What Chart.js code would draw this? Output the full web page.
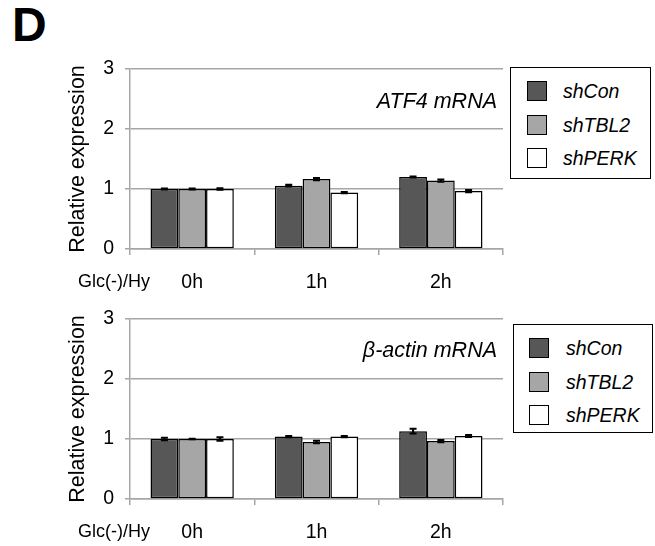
<!DOCTYPE html>
<html>
<head>
<meta charset="utf-8">
<script src="https://cdn.jsdelivr.net/npm/chart.js@4"></script>
<style>
  body { margin: 0; background: #fff; width: 655px; height: 546px; overflow: hidden; position: relative; font-family: "Liberation Sans", Arial, sans-serif; }
  .panel { position: absolute; left: 0; width: 655px; height: 300px; }
  .letter { position: absolute; left: 12px; top: 1px; font-size: 48px; line-height: 48px; font-weight: bold; }
  .legend { position: absolute; border: 1.5px solid #000; box-sizing: border-box; background: #fff; }
  .legend .row { position: absolute; left: 0; height: 20px; }
  .legend .sw { position: absolute; top: 0; width: 20px; height: 20px; border: 1.5px solid #000; box-sizing: border-box; }
  .legend .txt { position: absolute; top: -2px; font-size: 19.5px; font-style: italic; line-height: 24px; white-space: nowrap; }
</style>
</head>
<body>
<div class="letter">D</div>
<div class="panel" style="top:0px"><canvas id="atf4"></canvas></div>
<div class="panel" style="top:246px"><canvas id="actin"></canvas></div>
<div class="legend" id="legTop" style="left:510px; top:67px; width:141px; height:112px"></div>
<div class="legend" id="legBot" style="left:513px; top:324px; width:140px; height:109px"></div>
<script>
const timepoints = ["0h", "1h", "2h"];
const groups = ["shCon", "shTBL2", "shPERK"];
const colors = ["#575757", "#a6a6a6", "#ffffff"];
const yTicks = [0, 1, 2, 3];

// ATF4 mRNA (top)
const atf4Con = [1.00, 1.055, 1.20];
const atf4Tbl2 = [1.00, 1.165, 1.14];
const atf4Perk = [1.00, 0.94, 0.965];
const atf4ConErr = [0.01, 0.015, 0.01];
const atf4Tbl2Err = [0.01, 0.02, 0.02];
const atf4PerkErr = [0.012, 0.01, 0.02];

// beta-actin mRNA (bottom)
const actinCon = [1.00, 1.04, 1.13];
const actinTbl2 = [1.00, 0.95, 0.965];
const actinPerk = [1.00, 1.04, 1.05];
const actinConErr = [0.02, 0.01, 0.04];
const actinTbl2Err = [0.005, 0.02, 0.02];
const actinPerkErr = [0.03, 0.01, 0.015];

const FONT = '"Liberation Sans", Arial, sans-serif';

// error bars + in-plot note + "Glc(-)/Hy" label
const extras = {
  id: 'extras',
  afterDatasetsDraw(chart, args, opts) {
    const ctx = chart.ctx;
    const y = chart.scales.y;
    ctx.save();
    ctx.strokeStyle = '#000';
    ctx.lineWidth = 2;
    chart.data.datasets.forEach((ds, i) => {
      const meta = chart.getDatasetMeta(i);
      meta.data.forEach((bar, j) => {
        const v = ds.data[j], e = ds.err[j];
        const top = y.getPixelForValue(v + e), bot = y.getPixelForValue(v - e);
        ctx.beginPath();
        ctx.moveTo(bar.x, top); ctx.lineTo(bar.x, bot);
        ctx.moveTo(bar.x - 3.5, top); ctx.lineTo(bar.x + 3.5, top);
        ctx.moveTo(bar.x - 3.5, bot); ctx.lineTo(bar.x + 3.5, bot);
        ctx.stroke();
      });
    });
    const area = chart.chartArea;
    ctx.fillStyle = '#000';
    ctx.textBaseline = 'middle';
    ctx.textAlign = 'right';
    ctx.font = 'italic 21.5px ' + FONT;
    ctx.fillText(opts.note, area.right - 6, area.top + opts.noteY);
    ctx.textAlign = 'center';
    ctx.font = '18px ' + FONT;
    ctx.fillText('Glc(-)/Hy', 114, area.bottom + 33);
    ctx.restore();
  }
};

function makeChart(id, con, tbl2, perk, errs, note, noteY, padTop, axisH) {
  const vals = [con, tbl2, perk];
  new Chart(document.getElementById(id), {
    type: 'bar',
    data: {
      labels: timepoints,
      datasets: groups.map((g, i) => ({
        label: g,
        data: vals[i],
        err: errs[i],
        backgroundColor: colors[i],
        borderColor: '#000',
        borderWidth: 1.5,
        borderSkipped: false,
        categoryPercentage: 0.67,
        barPercentage: 1.0
      }))
    },
    options: {
      responsive: false,
      animation: false,
      layout: { padding: { top: padTop, right: 152, left: 0, bottom: 0 } },
      plugins: {
        legend: { display: false },
        tooltip: { enabled: false },
        extras: { note: note, noteY: noteY }
      },
      scales: {
        x: {
          afterFit(s) { s.height = axisH; },
          grid: { offset: true, drawOnChartArea: false, drawTicks: true, tickLength: 6, color: '#a6a6a6', lineWidth: 1.5 },
          border: { color: '#a6a6a6', width: 1.5 },
          ticks: { color: '#000', font: { family: FONT, size: 19.5 }, padding: 16 }
        },
        y: {
          min: 0, max: 3,
          afterFit(s) { s.width = 130; },
          afterBuildTicks(s) { s.ticks = yTicks.map(v => ({ value: v })); },
          grid: { color: '#a6a6a6', lineWidth: 1.5, tickLength: 5 },
          border: { color: '#a6a6a6', width: 1.5 },
          ticks: { color: '#000', font: { family: FONT, size: 19.5 }, padding: 11 },
          title: { display: true, text: 'Relative expression', color: '#000', font: { family: FONT, size: 21.5 }, padding: { top: 65, bottom: 0 } }
        }
      }
    },
    plugins: [extras]
  });
}

const canvases = document.querySelectorAll('canvas');
canvases.forEach(c => { c.width = 655; c.height = 300; });

makeChart('atf4', atf4Con, atf4Tbl2, atf4Perk, [atf4ConErr, atf4Tbl2Err, atf4PerkErr], 'ATF4 mRNA', 33, 69, 51);
makeChart('actin', actinCon, actinTbl2, actinPerk, [actinConErr, actinTbl2Err, actinPerkErr], '\u03b2-actin mRNA', 32, 73, 47);

function buildLegend(id, rowTops, swLeft, txtLeft) {
  const box = document.getElementById(id);
  groups.forEach((g, i) => {
    const row = document.createElement('div');
    row.className = 'row';
    row.style.top = rowTops[i] + 'px';
    row.innerHTML = `<div class="sw" style="left:${swLeft}px; background:${colors[i]}"></div>` +
      `<div class="txt" style="left:${txtLeft}px">${g}</div>`;
    box.appendChild(row);
  });
}
buildLegend('legTop', [13, 47, 80], 16, 52);
buildLegend('legBot', [13, 47, 80], 15, 52);
</script>
</body>
</html>
